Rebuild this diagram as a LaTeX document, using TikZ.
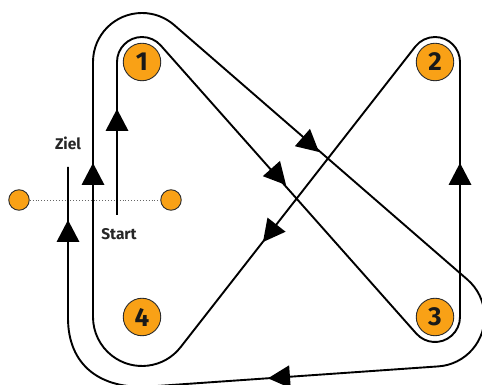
\documentclass[tikz,border=0pt]{standalone}
\usepackage{fontspec}
\setmainfont{Fira Sans}
\usetikzlibrary{calc}
\definecolor{punkt}{HTML}{F9A116}
\definecolor{rand}{HTML}{2B2B2B}
\tikzset{
  x=1pt,y=1pt,
  route/.style={draw=black,line width=1.9pt,line join=round},
  bigdot/.style={circle,draw=rand,line width=0.9pt,fill=punkt,minimum size=37.5pt,inner sep=0pt,font=\bfseries\fontsize{26}{26}\selectfont,text=black!90},
  smalldot/.style={circle,draw=rand,line width=0.9pt,fill=punkt,minimum size=20.5pt,inner sep=0pt},
  lab/.style={font=\bfseries\fontsize{15.5}{16}\selectfont,text=black!85,inner sep=0pt},
  tiphead/.style={fill=black},
  guide/.style={draw=black!60,line width=0.9pt,dotted}
}
\newcommand{\tiphere}[3]{\fill[tiphead,shift={(#1,#2)},rotate=#3] (0,0)--(-22,11.5)--(-22,-11.5)--cycle;}
\begin{document}
\begin{tikzpicture}
\useasboundingbox (0,0) rectangle (482,385);
\begin{scope}
\clip (0,0) rectangle (482,385);
\coordinate (n1c) at (142,323);
\coordinate (n2c) at (435,323);
\coordinate (n3c) at (435,68);
\coordinate (n4c) at (142,68);
\coordinate (turnend) at (150,-1.5);
\coordinate (turnstart) at (68,67);
\coordinate (startend) at (117,170);
\coordinate (zielend) at (68,218);
\node[smalldot] (a) at (19,185) {};
\node[smalldot] (b) at (171,185) {};
\draw[guide] (a) -- (b);
\draw[route]
  (startend) -- ($(n1c)+(-25pt,0)$)
  arc[start angle=180,end angle=41.57,radius=25pt]
  -- ($(n3c)+(221.57:25pt)$)
  arc[start angle=221.57,end angle=360,radius=25pt]
  -- ($(n2c)+(25pt,0)$)
  arc[start angle=0,end angle=142.01,radius=25pt]
  -- ($(n4c)+(322.01:49pt)$)
  arc[start angle=322.01,end angle=180,radius=49pt]
  -- ($(n1c)+(-49pt,0)$)
  arc[start angle=180,end angle=48.9,radius=49pt]
  -- ($(n3c)+(48.9:49.5pt)$)
  arc[start angle=48.9,end angle=-86,radius=49.5pt]
  -- (turnend)
  .. controls (100,-4.8) and (68,20) .. (turnstart)
  -- (zielend);
\tiphere{117}{276}{90}
\tiphere{93}{222}{90}
\tiphere{68}{165}{90}
\tiphere{460}{222}{90}
\tiphere{319}{233}{-41.1}
\tiphere{286}{200}{-48.43}
\tiphere{263}{143}{232}
\tiphere{268}{6.7}{184}
\node[bigdot] (n1) at (n1c) {1};
\node[bigdot] (n2) at (n2c) {2};
\node[bigdot] (n3) at (n3c) {3};
\node[bigdot] (n4) at (n4c) {4};
\node[lab] (ziel) at (68,242) {Ziel};
\node[lab] (start) at (119,151) {Start};
\end{scope}
\end{tikzpicture}
\end{document}
